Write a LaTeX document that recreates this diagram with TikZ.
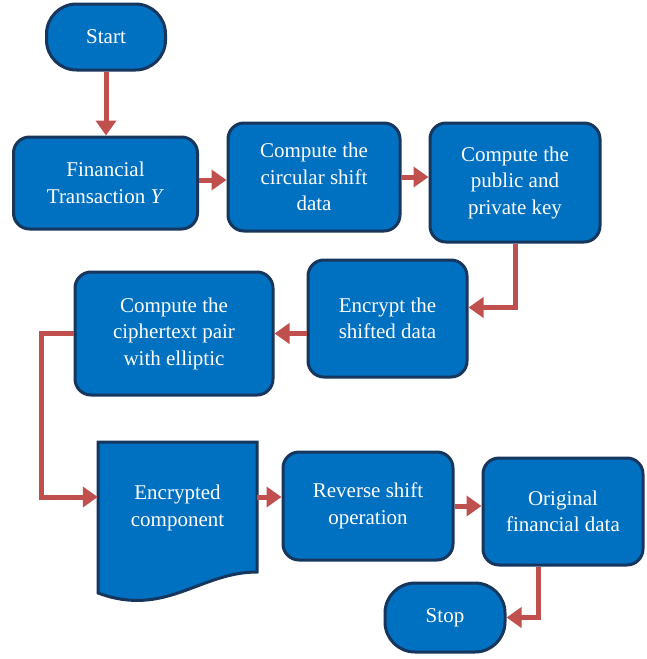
\documentclass[tikz,border=0pt]{standalone}
\usepackage{fontspec}
\setmainfont{Liberation Serif}
\usetikzlibrary{calc, arrows.meta}

\definecolor{boxblue}{HTML}{0070C0}
\definecolor{boxline}{HTML}{17365D}
\definecolor{arrowred}{HTML}{C0504D}

\begin{document}
\begin{tikzpicture}[x=1pt,y=-1pt,
  txt/.style={text=white,align=center,inner sep=0pt,font=\fontsize{21}{26.5}\selectfont},
  block/.style={txt,draw=boxline,fill=boxblue,line width=3pt,rounded corners=16pt},
  term/.style={block,rounded corners=30pt},
  flow/.style={draw=arrowred,line width=5pt,-{Triangle[length=15pt,width=20pt]}}]
\useasboundingbox (0,0) rectangle (646,659);
% Top row
\node[term,minimum width=119pt,minimum height=66pt] (start) at (106,37) {Start};
\node[block,minimum width=184pt,minimum height=92pt] (fin) at (105.5,183) {Financial\\Transaction \textit{Y}};
\node[block,minimum width=172pt,minimum height=108pt] (circ) at (314,177) {Compute the\\circular shift\\data};
\node[block,minimum width=170pt,minimum height=119pt] (keys) at (515,182.5) {Compute the\\public and\\private key};
% Middle row
\node[block,minimum width=159pt,minimum height=117pt] (encr) at (387.5,318.5) {Encrypt the\\shifted data};
\node[block,minimum width=198pt,minimum height=123pt] (ciph) at (174,333.5) {Compute the\\ciphertext pair\\with elliptic};
% Document shape of the encrypted component
\coordinate (d1) at (98,442);
\coordinate (d2) at (257,442);
\coordinate (d3) at (257,572);
\coordinate (d4) at (98,593);
\draw[draw=boxline,fill=boxblue,line width=3pt] (d1) -- (d2) -- (d3) .. controls (200,572) and (165,618) .. (d4) -- cycle;
\node[txt,minimum width=159pt] (enc) at (177.5,508) {Encrypted\\component};
% Bottom row
\node[block,minimum width=170pt,minimum height=108pt] (rev) at (368,506) {Reverse shift\\operation};
\node[block,minimum width=160pt,minimum height=107pt] (orig) at (563,511.5) {Original\\financial data};
\node[term,minimum width=120pt,minimum height=69pt] (stop) at (445,617.5) {Stop};
% Ends of the arrows
\coordinate (finout) at ($(fin.east)+(0,-3)$);
\coordinate (encrin) at ($(encr.east)+(0,-11)$);
\coordinate (encin) at ($(enc.west)+(0,-11)$);
\coordinate (encout) at ($(enc.east)+(0,-11)$);
\coordinate (origout) at ($(orig.south)+(-25,0)$);
% Arrows
\draw[flow] (start.south) -- (start.south |- fin.north);
\draw[flow] (finout) -- (finout -| circ.west);
\draw[flow] (circ.east) -- (circ.east -| keys.west);
\draw[flow] (keys.south) |- (encrin);
\draw[flow] (encr.west |- ciph.east) -- (ciph.east);
\draw[flow] (ciph.west) -- ++(-32,0) |- (encin);
\draw[flow] (encout) -- (encout -| rev.west);
\draw[flow] (rev.east) -- (rev.east -| orig.west);
\draw[flow] (origout) |- (stop.east);
\end{tikzpicture}
\end{document}
